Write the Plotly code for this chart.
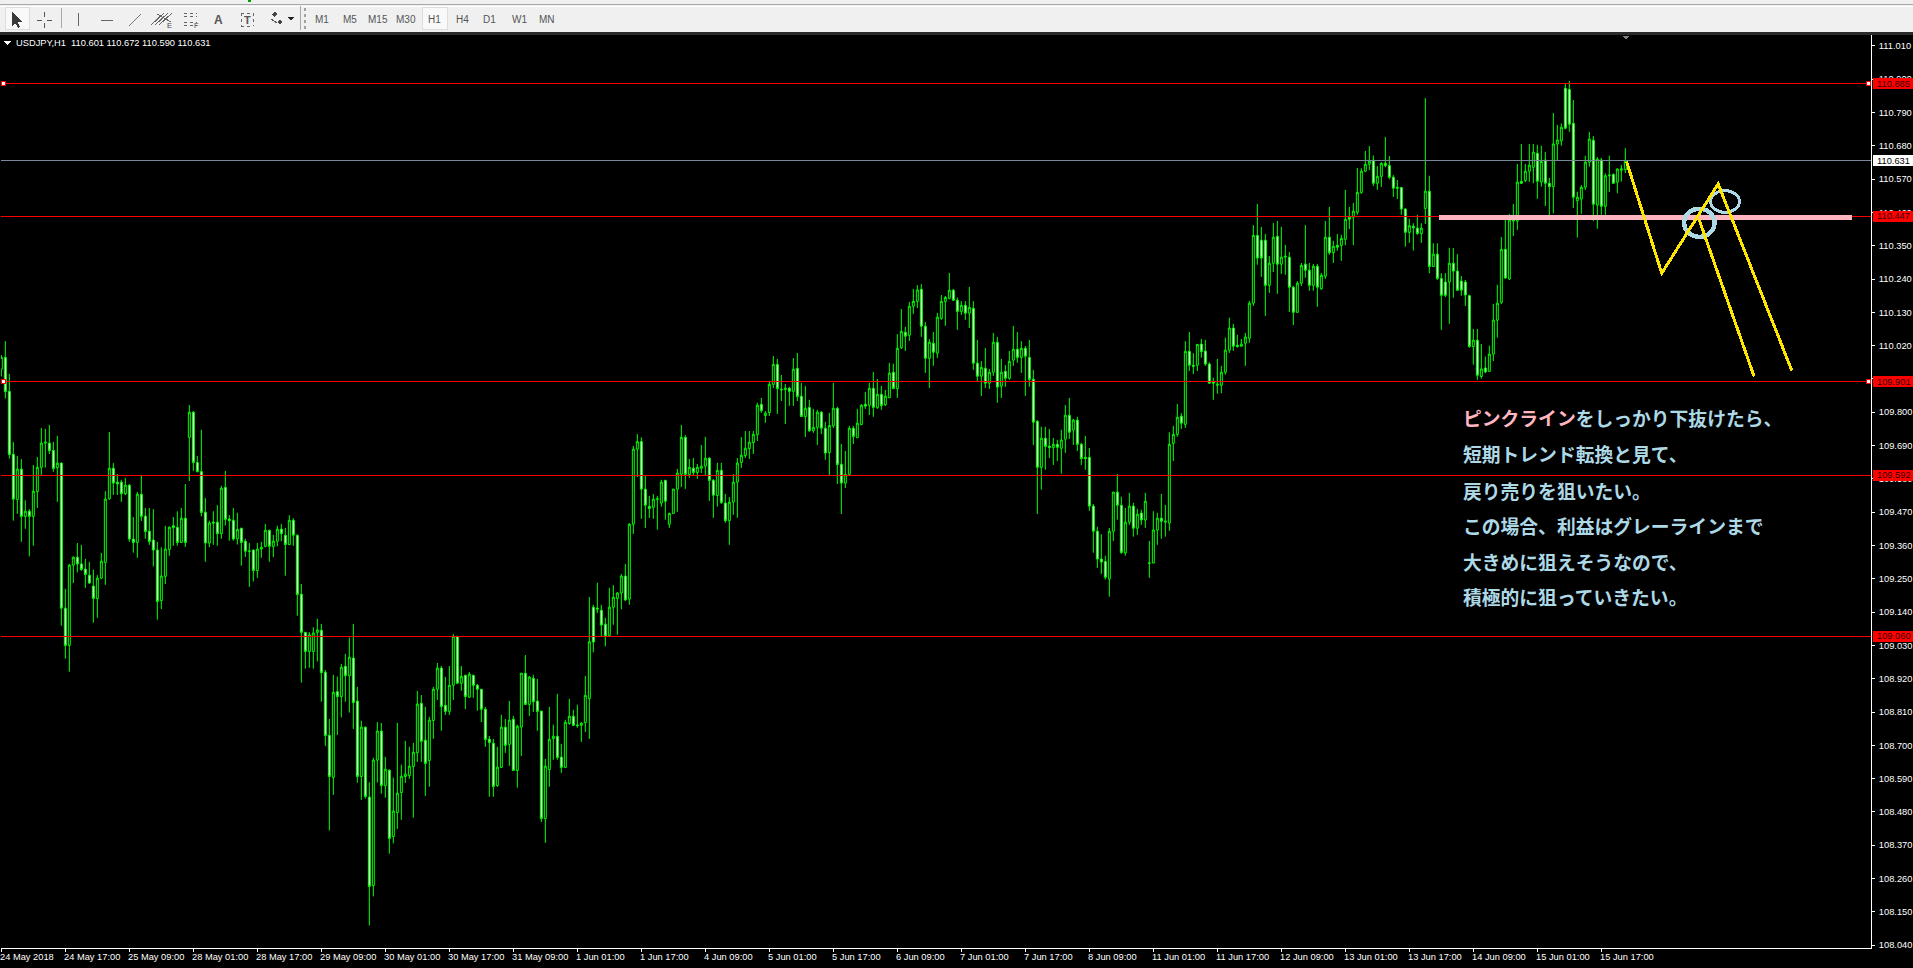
import plotly.graph_objects as go

opens = [
109.942,109.981,109.869,109.661,109.512,109.612,109.456,109.473,109.456,109.538,
109.618,109.698,109.698,109.674,109.617,109.632,109.153,109.030,109.295,109.321,
109.299,109.282,109.262,109.226,109.185,109.252,109.304,109.514,109.615,109.569,
109.569,109.531,109.559,109.381,109.370,109.529,109.457,109.407,109.378,109.345,
109.178,109.258,109.347,109.425,109.420,109.370,109.450,109.717,109.800,109.634,
109.604,109.470,109.368,109.437,109.437,109.399,109.552,109.447,109.443,109.382,
109.417,109.374,109.342,109.345,109.277,109.348,109.357,109.410,109.357,109.374,
109.414,109.394,109.363,109.443,109.394,109.199,109.073,109.010,109.010,109.073,
109.080,108.941,108.733,108.594,108.877,108.861,108.961,108.930,108.988,108.846,
108.597,108.760,108.529,108.237,108.651,108.747,108.567,108.618,108.399,108.478,
108.544,108.597,108.600,108.630,108.675,108.839,108.717,108.650,108.782,108.885,
108.955,108.832,108.812,108.898,109.060,108.905,108.931,108.859,108.931,108.898,
108.885,108.819,108.720,108.707,108.567,108.627,108.760,108.703,108.786,108.617,
108.760,108.938,108.835,108.921,108.846,108.813,108.458,108.620,108.722,108.730,
108.661,108.627,108.772,108.796,108.767,108.766,108.775,108.854,109.156,109.153,
109.146,109.100,109.063,109.156,109.185,109.203,109.259,109.183,109.430,109.678,
109.703,109.546,109.489,109.486,109.512,109.500,109.575,109.430,109.466,109.546,
109.595,109.717,109.594,109.615,109.601,109.615,109.622,109.648,109.575,109.525,
109.608,109.500,109.442,109.503,109.569,109.634,109.657,109.680,109.700,109.726,
109.826,109.789,109.799,109.892,109.958,109.876,109.875,109.879,109.869,109.945,
109.853,109.786,109.816,109.739,109.750,109.800,109.747,109.667,109.755,109.813,
109.628,109.566,109.595,109.747,109.716,109.759,109.826,109.823,109.879,109.815,
109.859,109.825,109.848,109.932,109.878,110.013,110.064,110.054,110.150,110.166,
110.206,110.084,109.978,110.028,109.995,110.110,110.166,110.176,110.203,110.170,
110.133,110.153,110.127,110.143,109.962,109.919,109.945,109.896,109.932,110.031,
109.886,109.935,109.912,109.972,110.008,109.981,110.011,109.981,109.909,109.770,
109.618,109.714,109.688,109.683,109.694,109.681,109.711,109.790,109.741,109.774,
109.694,109.651,109.651,109.490,109.407,109.315,109.307,109.249,109.407,109.536,
109.493,109.335,109.437,109.490,109.417,109.467,109.444,109.301,109.302,109.411,
109.450,109.437,109.434,109.697,109.727,109.787,109.760,110.001,109.955,109.955,
110.025,110.002,109.959,109.900,109.889,109.889,109.932,110.005,110.078,110.021,
110.018,110.028,110.044,110.160,110.384,110.368,110.368,110.219,110.292,110.381,
110.289,110.312,110.312,110.213,110.130,110.226,110.289,110.269,110.219,110.282,
110.208,110.249,110.378,110.327,110.351,110.351,110.371,110.444,110.444,110.460,
110.526,110.596,110.619,110.632,110.556,110.579,110.622,110.615,110.576,110.543,
110.542,110.471,110.394,110.414,110.408,110.390,110.473,110.530,110.281,110.322,
110.242,110.230,110.230,110.292,110.266,110.233,110.230,110.185,110.017,110.038,
109.918,109.946,109.935,109.992,110.104,110.163,110.338,110.240,110.431,110.431,
110.562,110.565,110.596,110.609,110.655,110.560,110.633,110.556,110.545,110.686,
110.696,110.870,110.866,110.754,110.498,110.504,110.543,110.626,110.698,110.484,
110.633,110.480,110.581,110.585,110.560,110.599,110.601]

closes = [
109.981,109.868,109.660,109.513,109.612,109.456,109.473,109.456,109.539,109.618,
109.698,109.701,109.673,109.614,109.632,109.153,109.030,109.295,109.321,109.299,
109.281,109.264,109.236,109.185,109.252,109.308,109.513,109.615,109.566,109.563,
109.531,109.559,109.381,109.370,109.529,109.456,109.406,109.373,109.345,109.175,
109.259,109.348,109.420,109.419,109.370,109.450,109.370,109.800,109.634,109.604,
109.469,109.368,109.434,109.434,109.399,109.549,109.446,109.442,109.381,109.413,
109.370,109.341,109.341,109.277,109.348,109.354,109.410,109.357,109.374,109.414,
109.399,109.363,109.443,109.394,109.198,109.073,109.010,109.065,109.071,109.081,
108.940,108.732,108.597,108.875,108.861,108.958,108.930,108.991,108.841,108.597,
108.760,108.531,108.234,108.651,108.747,108.567,108.621,108.392,108.483,108.542,
108.598,108.605,108.631,108.677,108.836,108.713,108.640,108.783,108.885,108.955,
108.828,108.812,108.898,109.060,108.905,108.928,108.861,108.935,108.898,108.885,
108.819,108.719,108.709,108.564,108.628,108.760,108.700,108.783,108.617,108.763,
108.938,108.835,108.925,108.844,108.812,108.458,108.631,108.720,108.730,108.660,
108.627,108.776,108.796,108.766,108.765,108.773,108.865,109.042,109.041,109.150,
109.097,109.061,109.156,109.189,109.203,109.259,109.180,109.430,109.678,109.703,
109.546,109.493,109.482,109.513,109.514,109.569,109.506,109.466,109.546,109.599,
109.717,109.595,109.618,109.601,109.618,109.622,109.648,109.575,109.526,109.608,
109.502,109.442,109.503,109.569,109.632,109.658,109.681,109.701,109.727,109.823,
109.805,109.797,109.892,109.958,109.878,109.874,109.879,109.869,109.942,109.852,
109.786,109.813,109.739,109.750,109.800,109.747,109.665,109.756,109.813,109.627,
109.566,109.595,109.747,109.720,109.764,109.823,109.820,109.879,109.816,109.859,
109.822,109.853,109.929,109.878,110.011,110.067,110.051,110.150,110.166,110.204,
110.084,109.978,110.031,109.998,110.114,110.166,110.179,110.203,110.170,110.133,
110.153,110.127,110.146,109.962,109.919,109.948,109.896,109.932,110.031,109.883,
109.932,109.912,109.968,110.008,109.981,110.011,109.985,109.908,109.767,109.618,
109.714,109.687,109.683,109.694,109.684,109.708,109.790,109.734,109.774,109.694,
109.647,109.647,109.490,109.407,109.315,109.305,109.255,109.407,109.536,109.493,
109.337,109.437,109.490,109.417,109.463,109.444,109.506,109.302,109.411,109.450,
109.440,109.440,109.694,109.727,109.783,109.764,110.001,109.955,109.952,110.024,
110.000,109.959,109.896,109.896,109.893,109.932,110.005,110.078,110.018,110.017,
110.025,110.048,110.160,110.384,110.309,110.309,110.219,110.292,110.378,110.289,
110.312,110.315,110.213,110.130,110.226,110.285,110.269,110.219,110.282,110.213,
110.252,110.378,110.327,110.348,110.345,110.374,110.437,110.437,110.464,110.526,
110.596,110.619,110.629,110.556,110.579,110.622,110.615,110.576,110.540,110.540,
110.471,110.394,110.416,110.409,110.390,110.408,110.530,110.281,110.322,110.242,
110.186,110.186,110.292,110.266,110.203,110.203,110.187,110.017,110.038,109.922,
109.943,109.933,109.992,110.104,110.160,110.338,110.243,110.435,110.435,110.560,
110.556,110.596,110.616,110.659,110.563,110.628,110.556,110.545,110.686,110.699,
110.741,110.738,110.751,110.510,110.510,110.543,110.626,110.702,110.487,110.636,
110.480,110.581,110.583,110.556,110.603,110.604,110.631]

highs = [
109.989,110.035,109.926,109.702,109.656,109.645,109.509,109.480,109.626,109.652,
109.748,109.745,109.758,109.702,109.722,109.634,109.217,109.299,109.324,109.368,
109.362,109.316,109.306,109.280,109.262,109.335,109.539,109.735,109.632,109.596,
109.577,109.583,109.563,109.454,109.537,109.590,109.484,109.484,109.480,109.372,
109.354,109.425,109.423,109.454,109.473,109.484,109.563,109.824,109.804,109.656,
109.742,109.517,109.442,109.473,109.493,109.557,109.606,109.460,109.484,109.468,
109.418,109.382,109.368,109.346,109.368,109.372,109.431,109.412,109.395,109.425,
109.431,109.418,109.460,109.450,109.395,109.233,109.075,109.074,109.090,109.118,
109.101,108.949,108.787,108.933,108.927,108.969,109.002,109.056,109.101,108.893,
108.781,108.762,108.578,108.659,108.777,108.774,108.662,108.620,108.593,108.774,
108.636,108.715,108.695,108.708,108.880,108.866,108.827,108.794,108.893,108.972,
108.962,108.926,108.962,109.068,109.060,108.962,108.933,108.942,108.933,108.903,
108.886,108.827,108.731,108.721,108.695,108.801,108.787,108.847,108.797,108.768,
108.939,108.998,108.929,108.933,108.919,108.814,108.655,108.827,108.768,108.870,
108.705,108.784,108.853,108.817,108.834,108.777,108.929,109.190,109.164,109.237,
109.164,109.121,109.220,109.229,109.206,109.266,109.299,109.434,109.689,109.728,
109.717,109.590,109.524,109.530,109.524,109.577,109.577,109.468,109.547,109.613,
109.758,109.725,109.646,109.649,109.629,109.692,109.719,109.652,109.579,109.633,
109.633,109.530,109.520,109.596,109.649,109.718,109.738,109.738,109.738,109.831,
109.847,109.804,109.900,109.986,109.976,109.923,109.893,109.884,109.979,109.996,
109.897,109.887,109.841,109.811,109.808,109.804,109.768,109.798,109.897,109.818,
109.695,109.672,109.755,109.755,109.811,109.827,109.867,109.897,109.933,109.910,
109.887,109.874,109.963,109.960,110.058,110.141,110.082,110.164,110.207,110.220,
110.223,110.098,110.042,110.065,110.128,110.187,110.184,110.260,110.207,110.179,
110.167,110.167,110.214,110.167,110.039,109.969,110.012,109.943,110.062,110.049,
109.976,109.956,110.002,110.085,110.065,110.035,110.019,110.039,109.940,109.774,
109.752,109.752,109.745,109.715,109.709,109.742,109.824,109.847,109.778,109.785,
109.699,109.722,109.682,109.497,109.422,109.397,109.326,109.418,109.537,109.596,
109.521,109.484,109.534,109.501,109.481,109.478,109.534,109.375,109.473,109.468,
109.530,109.494,109.734,109.755,109.827,109.797,110.035,110.065,109.995,110.025,
110.042,110.039,109.965,109.914,109.976,109.953,110.046,110.112,110.092,110.056,
110.042,110.062,110.168,110.418,110.488,110.412,110.389,110.316,110.425,110.432,
110.412,110.353,110.329,110.217,110.233,110.293,110.418,110.293,110.290,110.290,
110.260,110.432,110.478,110.366,110.389,110.386,110.534,110.478,110.491,110.607,
110.606,110.663,110.679,110.648,110.613,110.626,110.709,110.646,110.583,110.567,
110.544,110.474,110.439,110.424,110.452,110.424,110.838,110.581,110.358,110.358,
110.259,110.259,110.343,110.342,110.322,110.250,110.237,110.188,110.075,110.075,
110.025,109.984,110.020,110.158,110.221,110.379,110.435,110.455,110.488,110.620,
110.686,110.620,110.686,110.686,110.683,110.680,110.660,110.574,110.788,110.749,
110.754,110.884,110.894,110.831,110.528,110.550,110.647,110.726,110.712,110.643,
110.640,110.589,110.647,110.589,110.606,110.617,110.672]

lows = [
109.918,109.845,109.647,109.442,109.464,109.372,109.415,109.324,109.359,109.484,
109.593,109.617,109.662,109.603,109.504,109.095,108.986,108.943,109.236,109.271,
109.276,109.220,109.233,109.105,109.121,109.249,109.230,109.511,109.527,109.527,
109.504,109.526,109.372,109.336,109.319,109.441,109.382,109.362,109.291,109.115,
109.150,109.233,109.326,109.359,109.359,109.368,109.355,109.573,109.606,109.601,
109.456,109.306,109.354,109.362,109.359,109.382,109.426,109.376,109.376,109.363,
109.293,109.322,109.223,109.241,109.253,109.319,109.354,109.306,109.322,109.357,
109.374,109.260,109.361,109.359,109.128,108.907,108.953,108.956,108.953,108.977,
108.844,108.698,108.419,108.536,108.734,108.792,108.844,108.808,108.754,108.577,
108.520,108.524,108.105,108.201,108.577,108.540,108.527,108.342,108.376,108.424,
108.454,108.576,108.589,108.461,108.645,108.645,108.533,108.563,108.721,108.850,
108.748,108.800,108.800,108.850,108.903,108.880,108.820,108.857,108.857,108.814,
108.777,108.695,108.530,108.530,108.563,108.626,108.675,108.632,108.616,108.560,
108.665,108.833,108.797,108.810,108.748,108.447,108.378,108.563,108.652,108.652,
108.609,108.626,108.768,108.764,108.758,108.711,108.744,108.721,109.007,109.137,
109.061,109.027,109.061,109.098,109.065,109.149,109.177,109.164,109.398,109.586,
109.448,109.418,109.451,109.448,109.412,109.488,109.445,109.418,109.464,109.471,
109.553,109.547,109.583,109.590,109.580,109.599,109.593,109.507,109.451,109.488,
109.497,109.435,109.362,109.461,109.451,109.616,109.649,109.646,109.662,109.705,
109.798,109.765,109.788,109.880,109.794,109.837,109.761,109.821,109.821,109.837,
109.785,109.718,109.735,109.732,109.692,109.728,109.643,109.593,109.748,109.563,
109.464,109.550,109.593,109.695,109.716,109.758,109.811,109.791,109.785,109.811,
109.808,109.821,109.847,109.876,109.847,110.009,110.002,110.035,110.125,110.144,
110.049,109.930,109.880,109.953,109.979,110.105,110.085,110.173,110.167,110.072,
110.121,110.105,110.078,109.940,109.903,109.854,109.880,109.877,109.920,109.831,
109.847,109.884,109.907,109.953,109.963,109.930,109.854,109.884,109.692,109.464,
109.544,109.610,109.649,109.626,109.639,109.597,109.666,109.712,109.692,109.672,
109.626,109.610,109.474,109.336,109.286,109.266,109.247,109.191,109.375,109.445,
109.332,109.326,109.428,109.389,109.395,109.428,109.418,109.253,109.301,109.362,
109.382,109.389,109.408,109.639,109.719,109.745,109.748,109.936,109.926,109.936,
109.980,109.953,109.894,109.841,109.861,109.863,109.924,109.996,110.003,110.013,
110.016,109.953,110.029,110.151,110.287,110.247,110.118,110.194,110.263,110.191,
110.257,110.254,110.131,110.088,110.129,110.217,110.244,110.201,110.201,110.148,
110.204,110.240,110.320,110.293,110.333,110.300,110.352,110.405,110.352,110.452,
110.521,110.593,110.600,110.547,110.534,110.544,110.609,110.569,110.511,110.504,
110.452,110.347,110.359,110.334,110.386,110.359,110.422,110.259,110.280,110.237,
110.072,110.180,110.092,110.178,110.201,110.185,110.151,110.013,109.957,109.907,
109.911,109.929,109.934,109.969,110.046,110.157,110.241,110.237,110.382,110.402,
110.554,110.560,110.561,110.556,110.505,110.545,110.481,110.446,110.457,110.633,
110.680,110.734,110.726,110.474,110.377,110.455,110.534,110.611,110.432,110.406,
110.452,110.452,110.527,110.554,110.523,110.562,110.590]

date_labels = ["24 May 2018", "24 May 17:00", "25 May 09:00", "28 May 01:00", "28 May 17:00", "29 May 09:00",
               "30 May 01:00", "30 May 17:00", "31 May 09:00", "1 Jun 01:00", "1 Jun 17:00", "4 Jun 09:00",
               "5 Jun 01:00", "5 Jun 17:00", "6 Jun 09:00", "7 Jun 01:00", "7 Jun 17:00", "8 Jun 09:00",
               "11 Jun 01:00", "11 Jun 17:00", "12 Jun 09:00", "13 Jun 01:00", "13 Jun 17:00", "14 Jun 09:00",
               "15 Jun 01:00", "15 Jun 17:00"]
price_ticks = [111.010, 110.900, 110.790, 110.680, 110.570, 110.460, 110.350, 110.240, 110.130, 110.020,
               109.910, 109.800, 109.690, 109.580, 109.470, 109.360, 109.250, 109.140, 109.030, 108.920,
               108.810, 108.700, 108.590, 108.480, 108.370, 108.260, 108.150, 108.040]
red_levels = [110.885, 110.447, 109.901, 109.592, 109.060]
current_price = 110.631

pink_x = [359.5, 462.6]
pink_y = [110.444, 110.444]
path_x = [406.3, 415.1, 429.2, 447.6]
path_y = [110.628, 110.259, 110.554, 109.938]
branch_x = [424.4, 438.2]
branch_y = [110.438, 109.918]
ring1 = dict(x0=420.7, x1=428.3, y0=110.379, y1=110.472)
ring2 = dict(x0=427.3, x1=434.5, y0=110.460, y1=110.532)

note_lines = ["短期トレンド転換と見て、", "戻り売りを狙いたい。", "この場合、利益はグレーラインまで",
              "大きめに狙えそうなので、", "積極的に狙っていきたい。"]

assert len(opens) == len(closes) == len(highs) == len(lows) == 407

W, H = 1913, 968
L, R, T, B = 1, 1871, 35, 948
X_RANGE = [(L - 1.33) / 4, (R - 1.33) / 4]
Y_RANGE = [108.0306, 111.0458]
UI = "Liberation Sans"
LABEL_SIZE = 9.3
GREEN = "#00ff00"
FLAG_HALF = 0.0182


def xp(px):
    return (px - L) / (R - L)


def yp(py):
    return (B - py) / (B - T)


shapes = []
anns = []


def rect(x0, y0, x1, y1, fill, line=None):
    shapes.append(dict(type="rect", xref="paper", yref="paper", x0=xp(x0), x1=xp(x1), y0=yp(y0), y1=yp(y1),
                       fillcolor=fill, line=dict(color=line or fill, width=1 if line else 0), layer="above"))


def seg(x0, y0, x1, y1, color="#555555", width=1, dash=None):
    shapes.append(dict(type="line", xref="paper", yref="paper", x0=xp(x0), x1=xp(x1), y0=yp(y0), y1=yp(y1),
                       line=dict(color=color, width=width, dash=dash), layer="above"))


def poly(points, fill):
    d = "M" + " L".join(f"{xp(a):.6f} {yp(b):.6f}" for a, b in points) + " Z"
    shapes.append(dict(type="path", xref="paper", yref="paper", path=d, fillcolor=fill,
                       line=dict(color=fill, width=0), layer="above"))


def text(px, py, s, size=10, color="#ffffff", anchor="left", family=UI, **kw):
    anns.append(dict(xref="paper", yref="paper", x=xp(px), y=yp(py), text=s, showarrow=False, xanchor=anchor,
                     yanchor="middle", borderpad=0, borderwidth=0, font=dict(family=family, size=size, color=color), **kw))


# window chrome above the chart
rect(0, 0, W, 32, "#f0f0f0")
rect(0, 32, W, 35, "#2a2a2a")
seg(0, 4.5, W, 4.5, "#a8a8a8")
rect(248, 0, 251, 2, "#00a000")
seg(0, 6, W, 6, "#ffffff")
rect(5, 7, 29, 29, "#f9f9f9", "#dddddd")
rect(422, 7, 447, 29, "#f9f9f9", "#dddddd")
seg(61.5, 8, 61.5, 28, "#a8a8a8")
seg(300.5, 6, 300.5, 30, "#a8a8a8")
seg(305, 8, 305, 29, "#a0a0a0", 2, "dot")
poly([(12, 11), (12, 27), (15.5, 23.5), (18, 28), (20, 27), (18, 22.5), (22, 22)], "#3a3a3a")
seg(37, 20, 42, 20); seg(47, 20, 52, 20); seg(44.5, 12, 44.5, 17); seg(44.5, 23, 44.5, 28)
seg(78.5, 13, 78.5, 26, "#666666")
seg(101, 20, 113, 20, "#666666")
seg(129, 26, 141, 14, "#777777")
for d in (-4, 0, 4):
    seg(155 + d, 25, 168 + d, 13, "#666666")
seg(157, 14, 171, 22, "#666666")
text(167, 25.5, "E", 7.5, "#444444")
for yy in (13, 16, 22, 25):
    seg(184, yy, 197, yy, "#666666", 1, "dot")
text(194, 26, "F", 7.5, "#444444")
text(218, 20, "<b>A</b>", 12, "#555555", "center")
seg(241, 13, 253, 13, "#666666", 1, "dot"); seg(241, 26, 253, 26, "#666666", 1, "dot")
seg(241, 13, 241, 26, "#666666", 1, "dot"); seg(253, 13, 253, 26, "#666666", 1, "dot")
text(247, 20, "<b>T</b>", 11, "#555555", "center")
poly([(272, 14), (275, 17), (278, 14), (275, 12)], "#444444")
poly([(277, 22), (280, 25), (283, 22), (280, 20)], "#444444")
seg(271, 19, 277, 23, "#555555")
poly([(288, 17), (294, 17), (291, 21)], "#222222")
for lbl, cx in zip(["M1", "M5", "M15", "M30", "H1", "H4", "D1", "W1", "MN"],
                   [322, 350, 378, 406, 434.5, 462, 490, 519, 547]):
    text(cx, 20, lbl, 10, "#555555", "center")

# chart header
poly([(4, 41.5), (11, 41.5), (7.5, 45.5)], "#ffffff")
text(16, 43, "USDJPY,H1&nbsp;&nbsp;110.601 110.672 110.590 110.631", LABEL_SIZE, "#ffffff")
poly([(1622, 36), (1630, 36), (1626, 40)], "#808080")

# price flags on the axis
for lv, fill, ink in [(v, "#ff0000", "#330000") for v in red_levels] + [(current_price, "#ffffff", "#000000")]:
    shapes.append(dict(type="rect", xref="paper", yref="y", x0=xp(1873), x1=xp(1914), y0=lv - FLAG_HALF,
                       y1=lv + FLAG_HALF, fillcolor=fill, line=dict(width=0), layer="above"))
    anns.append(dict(xref="paper", yref="y", x=xp(1877), y=lv, text=f"{lv:.3f}", showarrow=False, xanchor="left",
                     yanchor="middle", borderpad=0, borderwidth=0, font=dict(family=UI, size=LABEL_SIZE, color=ink)))

# time labels start at their tick
for k, lbl in enumerate(date_labels):
    anns.append(dict(xref="x", yref="paper", x=16 * k, xshift=-1, y=yp(957), text=lbl, showarrow=False, xanchor="left",
                     yanchor="middle", borderpad=0, borderwidth=0, font=dict(family=UI, size=LABEL_SIZE, color="#ffffff")))

# Japanese note
JP = "Noto Sans CJK JP"
NOTE_SIZE = 18.8
note_color = "#add8e6"
pink = "#ffb6c1"
text(1463, 418, f"<b><span style='color:{pink}'>ピンクライン</span>をしっかり下抜けたら、</b>", NOTE_SIZE, note_color, family=JP)
for ly, s in zip([453.5, 490.5, 525.5, 561.5, 596.5], note_lines):
    text(1463, ly, f"<b>{s}</b>", NOTE_SIZE, note_color, family=JP)

# rings, then the yellow scenario lines over them
shapes.append(dict(type="circle", xref="x", yref="y", line=dict(color="#add8e6", width=4.5), layer="above", **ring1))
shapes.append(dict(type="circle", xref="x", yref="y", line=dict(color="#add8e6", width=3), layer="above", **ring2))
for xs, ys in ((path_x, path_y), (branch_x, branch_y)):
    d = "M" + " L".join(f"{a} {b}" for a, b in zip(xs, ys))
    shapes.append(dict(type="path", xref="x", yref="y", path=d, line=dict(color="#ffe600", width=3), layer="above"))

fig = go.Figure()
fig.add_trace(go.Candlestick(
    x=list(range(len(opens))), open=opens, high=highs, low=lows, close=closes, whiskerwidth=0,
    increasing=dict(line=dict(color=GREEN, width=1), fillcolor="#000000"),
    decreasing=dict(line=dict(color=GREEN, width=1), fillcolor="#ffffff"),
    hoverinfo="skip", showlegend=False))
for lv in red_levels:
    fig.add_trace(go.Scatter(x=X_RANGE, y=[lv, lv], mode="lines", line=dict(color="#ff0000", width=1),
                             hoverinfo="skip", showlegend=False))
fig.add_trace(go.Scatter(x=X_RANGE, y=[current_price, current_price], mode="lines",
                         line=dict(color="#778899", width=1), hoverinfo="skip", showlegend=False))
fig.add_trace(go.Scatter(x=[0.5, 466.7, 0.5, 466.7], y=[red_levels[0], red_levels[0], red_levels[2], red_levels[2]],
                         mode="markers", marker=dict(symbol="square", size=4, color="#ffffff",
                                                     line=dict(color="#ff0000", width=1)),
                         hoverinfo="skip", showlegend=False))
fig.add_trace(go.Scatter(x=pink_x, y=pink_y, mode="lines", line=dict(color=pink, width=5),
                         hoverinfo="skip", showlegend=False))

fig.update_layout(
    width=W, height=H, autosize=False, margin=dict(l=L, r=W - R, t=T, b=H - B, pad=0),
    paper_bgcolor="#000000", plot_bgcolor="#000000", showlegend=False, shapes=shapes, annotations=anns,
    hovermode=False, dragmode=False,
    xaxis=dict(range=X_RANGE, rangeslider=dict(visible=False), showgrid=False, zeroline=False, showline=True,
               linecolor="#ffffff", linewidth=1, mirror=True, ticks="outside", ticklen=3, tickcolor="#ffffff",
               tickvals=[16 * k for k in range(len(date_labels))], showticklabels=False),
    yaxis=dict(range=Y_RANGE, side="right", showgrid=False, zeroline=False, showline=True, linecolor="#ffffff",
               linewidth=1, ticks="outside", ticklen=3, tickcolor="#ffffff", tickvals=price_ticks, ticklabelstandoff=2,
               ticktext=[f"{t:.3f}" for t in price_ticks], tickfont=dict(family=UI, size=LABEL_SIZE, color="#ffffff")),
)

post = """
document.documentElement.style.overflow='hidden';
document.body.style.margin='0';
document.body.style.background='#000';
var s=document.createElement('style');
s.textContent='.scatterlayer path,.shapelayer path{shape-rendering:crispEdges}';
document.head.appendChild(s);
"""
fig.write_html("out.html", post_script=post, config=dict(displayModeBar=False))
